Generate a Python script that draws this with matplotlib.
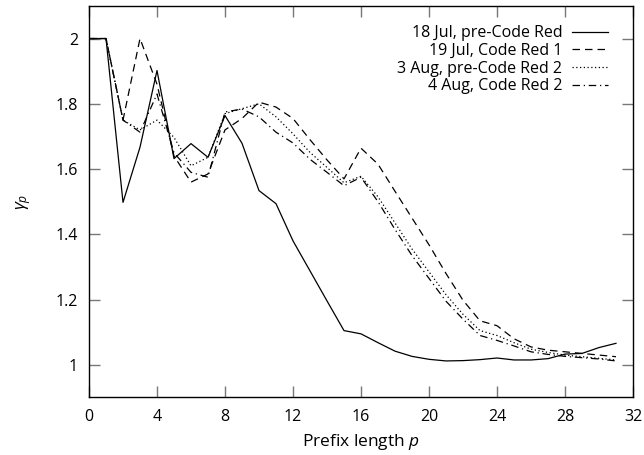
import matplotlib
matplotlib.use("Agg")
import matplotlib.pyplot as plt
from matplotlib.ticker import FuncFormatter, MultipleLocator

prefix = list(range(32))

jul18 = [2.0, 2.0, 1.498, 1.667, 1.902, 1.632, 1.678, 1.636, 1.764, 1.679,
         1.534, 1.494, 1.38, 1.288, 1.196, 1.105, 1.095, 1.068, 1.042, 1.026,
         1.017, 1.012, 1.013, 1.016, 1.021, 1.015, 1.015, 1.019, 1.033, 1.035,
         1.053, 1.066]
jul19 = [2.0, 2.0, 1.75, 2.0, 1.86, 1.64, 1.56, 1.585, 1.72, 1.755,
         1.805, 1.79, 1.755, 1.69, 1.628, 1.57, 1.664, 1.615, 1.532, 1.45,
         1.368, 1.28, 1.198, 1.135, 1.12, 1.08, 1.055, 1.045, 1.04, 1.035,
         1.03, 1.025]
aug3 = [2.0, 2.0, 1.75, 1.72, 1.75, 1.697, 1.61, 1.636, 1.77, 1.785,
        1.80, 1.76, 1.708, 1.651, 1.605, 1.558, 1.578, 1.515, 1.435, 1.355,
        1.285, 1.215, 1.155, 1.105, 1.09, 1.068, 1.048, 1.038, 1.03, 1.025,
        1.02, 1.015]
aug4 = [2.0, 2.0, 1.75, 1.713, 1.83, 1.65, 1.59, 1.575, 1.775, 1.784,
        1.76, 1.713, 1.68, 1.63, 1.59, 1.549, 1.575, 1.50, 1.415, 1.335,
        1.265, 1.195, 1.14, 1.09, 1.075, 1.058, 1.04, 1.032, 1.026, 1.022,
        1.018, 1.012]

labels = ["18 Jul, pre-Code Red", "19 Jul, Code Red 1",
          "3 Aug, pre-Code Red 2", "4 Aug, Code Red 2"]

plt.rcParams['font.family'] = ['Open Sans', 'DejaVu Sans']
plt.rcParams['mathtext.fontset'] = 'custom'
plt.rcParams['mathtext.rm'] = 'Open Sans'
plt.rcParams['mathtext.it'] = 'Open Sans:italic'

fig = plt.figure(figsize=(6.44, 4.55), dpi=100)
ax = fig.add_axes([0.1382, 0.1264, 0.9829 - 0.1382, 0.987 - 0.1264])

lw = 0.9
ax.plot(prefix, jul18, color='black', lw=lw, linestyle='-', label=labels[0])
ax.plot(prefix, jul19, color='black', lw=lw, linestyle=(0, (6, 4)), label=labels[1])
ax.plot(prefix, aug3, color='black', lw=lw, linestyle=(0, (1, 2)), label=labels[2])
ax.plot(prefix, aug4, color='black', lw=lw, linestyle=(0, (6, 3, 1, 3)), label=labels[3])

ax.set_xlim(0, 32)
ax.set_ylim(0.9, 2.1)
ax.xaxis.set_major_locator(MultipleLocator(4))
ax.yaxis.set_major_locator(MultipleLocator(0.2))
ax.yaxis.set_major_formatter(FuncFormatter(lambda v, p: ('%g' % round(v, 2))))

for s in ax.spines.values():
    s.set_color('black')
    s.set_linewidth(1.0)

ax.tick_params(direction='in', length=8, width=1.0, color='#777777',
               top=True, right=True, labelsize=11.5, pad=8)

ax.set_xlabel(r'Prefix length $p$', fontsize=12.5, labelpad=5)
ax.set_ylabel(r'$\gamma_p$', fontsize=12.5, labelpad=16)

leg = ax.legend(loc='upper right', bbox_to_anchor=(0.974, 0.979),
                frameon=False, markerfirst=False,
                fontsize=11.5, handlelength=2.25, handletextpad=0.6,
                labelspacing=0.1, borderaxespad=0.3, borderpad=0.4)
try:
    for col in leg._legend_handle_box.get_children():
        col.align = 'right'
except Exception:
    pass

fig.savefig('out.png', dpi=100)
